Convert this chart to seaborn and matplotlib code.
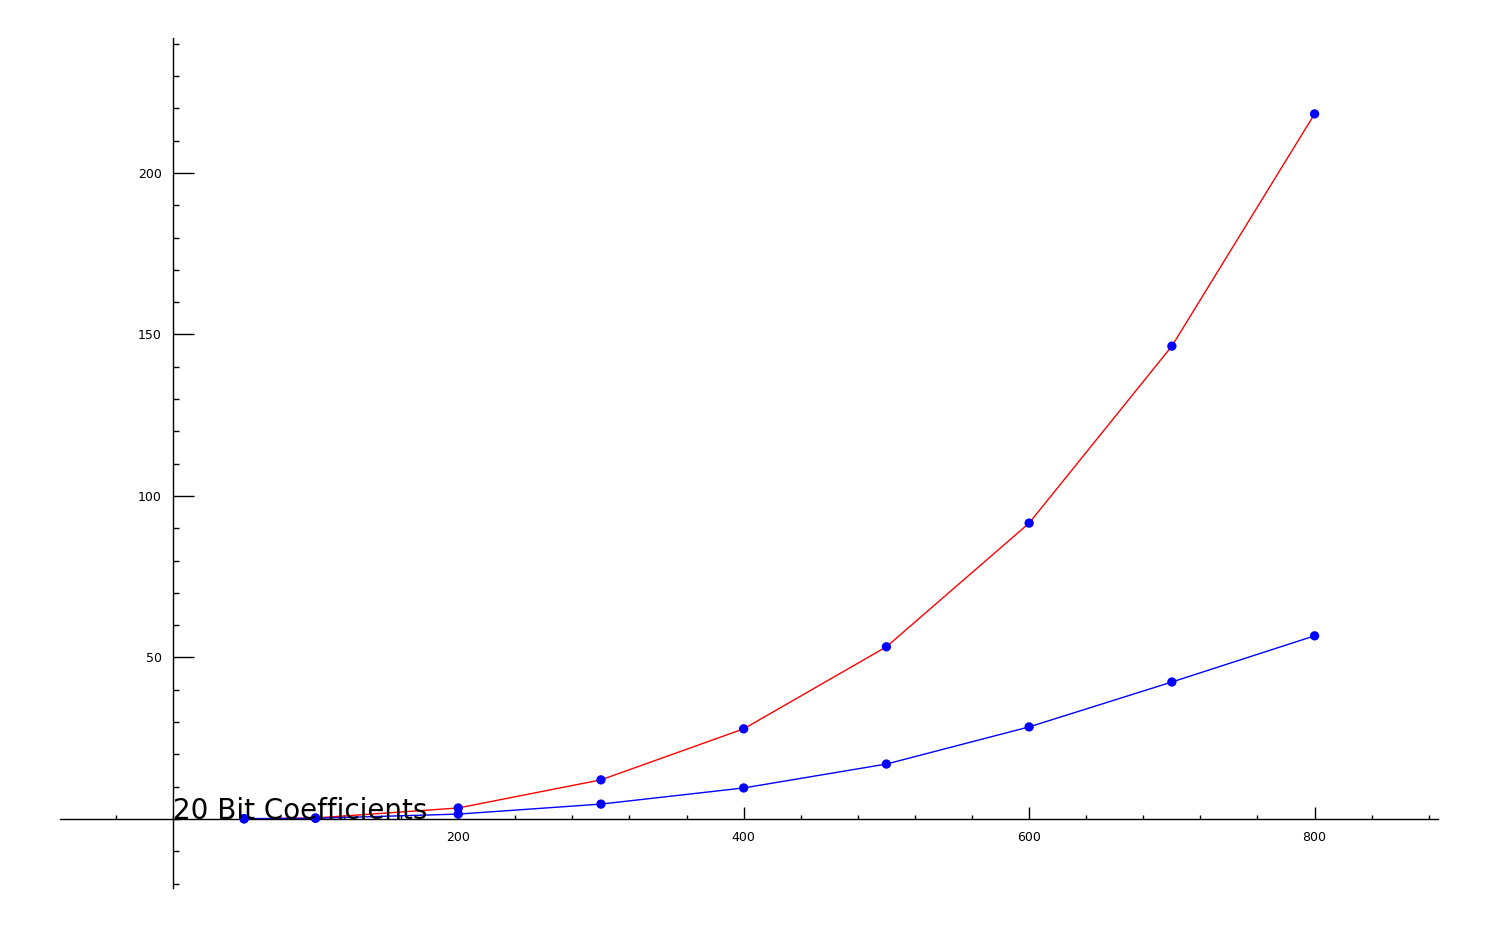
import pandas as pd
import matplotlib.pyplot as plt
import seaborn as sns
from matplotlib.ticker import MultipleLocator

# degree vs. time
degrees = [50, 100, 200, 300, 400, 500, 600, 700, 800]
time_red = [0.0, 0.3, 3.4, 12.1, 27.9, 53.3, 91.6, 146.4, 218.3]
time_blue = [0.1, 0.2, 1.5, 4.6, 9.6, 17.0, 28.5, 42.4, 56.7]
title_text = "20 Bit Coefficients"

df = pd.DataFrame({"degree": degrees, "red": time_red, "blue": time_blue})

sns.set_style("white")
plt.rcParams['font.family'] = ['DejaVu Sans']
plt.rcParams['text.color'] = 'black'
plt.rcParams['xtick.color'] = 'black'
plt.rcParams['ytick.color'] = 'black'

fig = plt.figure(figsize=(15, 9.27), dpi=100)
ax = fig.add_axes([0.04, 0.042, 0.9187, 0.917])

sns.lineplot(data=df, x="degree", y="red", color="red", linewidth=1, ax=ax, zorder=2)
sns.lineplot(data=df, x="degree", y="blue", color="blue", linewidth=1, ax=ax, zorder=2)
for col in ["red", "blue"]:
    sns.scatterplot(data=df, x="degree", y=col, color="blue", s=45, edgecolor="none",
                    ax=ax, zorder=3)

ax.set_xlim(-79, 886.5)
ax.set_ylim(-21.4, 241.8)

# axes crossing at the origin, Sage style
ax.spines['left'].set_position(('data', 0))
ax.spines['bottom'].set_position(('data', 0))
ax.spines['right'].set_visible(False)
ax.spines['top'].set_visible(False)
for s in ['left', 'bottom']:
    ax.spines[s].set_linewidth(1)
    ax.spines[s].set_color('black')

ax.xaxis.set_minor_locator(MultipleLocator(40))
ax.yaxis.set_minor_locator(MultipleLocator(10))
ax.set_xticks([200, 400, 600, 800])
ax.set_yticks([50, 100, 150, 200])
ax.tick_params(axis='x', which='major', direction='in', length=9, width=1,
               labelsize=9, labelcolor='black', bottom=True, pad=9)
ax.tick_params(axis='x', which='minor', direction='in', length=3, width=1, bottom=True)
ax.tick_params(axis='y', which='major', direction='in', length=15, width=1,
               labelsize=9, labelcolor='black', left=True, pad=8)
ax.tick_params(axis='y', which='minor', direction='in', length=4.5, width=1, left=True)
ax.set_xlabel("")
ax.set_ylabel("")

ax.text(0, 0, title_text, fontsize=20, ha='left', va='baseline', zorder=4)

fig.savefig("out.png", dpi=100)
